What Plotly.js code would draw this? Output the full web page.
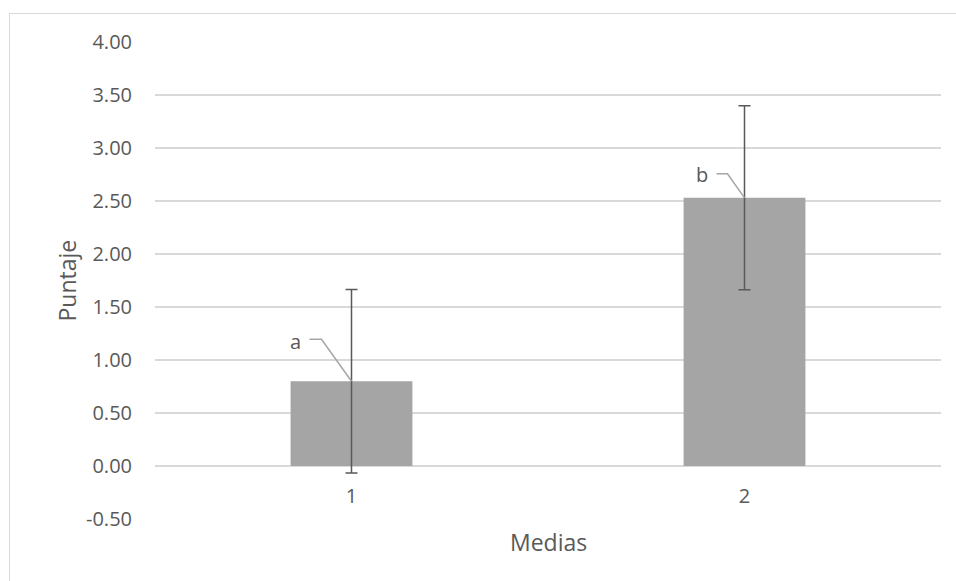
<!DOCTYPE html>
<html>
<head>
<meta charset="utf-8">
<script src="https://cdn.plot.ly/plotly-3.0.1.min.js"></script>
<style>
  html, body { margin: 0; padding: 0; background: #ffffff; }
  #chart { width: 956px; height: 581px; }
  #frame { position: absolute; left: 9px; top: 13px; width: 960px; height: 580px;
           border-left: 1px solid #d9d9d9; border-top: 1px solid #d9d9d9; pointer-events: none; }
</style>
</head>
<body>
<div id="chart"></div>
<div id="frame"></div>
<script>
// ---- data ----
const categories = ['1', '2'];
const means = [0.80, 2.53];
const errors = [0.866, 0.868];
const letters = ['a', 'b'];
const yTickValues = [-0.5, 0, 0.5, 1, 1.5, 2, 2.5, 3, 3.5, 4];
const xTitle = 'Medias';
const yTitle = 'Puntaje';

const FONT = 'Open Sans, sans-serif';
const TXT = '#595959';

// label offsets (pixels) for the letter callouts
const labelShift = [{x: -56, y: 40}, {x: -43, y: 23}];
const leaderPaths = [
  'M 0 0 L -30 42 L -42 42',
  'M 0 0 L -17 24 L -28 24'
];

const trace = {
  type: 'bar',
  x: categories,
  y: means,
  marker: {color: '#a5a5a5'},
  error_y: {type: 'data', array: errors, visible: true, color: '#595959', thickness: 1.5, width: 6},
  hoverinfo: 'skip'
};

const annotations = letters.map((t, i) => ({
  x: i, y: means[i], xref: 'x', yref: 'y', text: t, showarrow: false,
  xshift: labelShift[i].x, yshift: labelShift[i].y,
  font: {family: FONT, size: 20, color: TXT}
}));
annotations.push({
  x: 0.5, y: 0, xref: 'paper', yref: 'paper', text: xTitle, showarrow: false,
  xanchor: 'center', yshift: -23, yanchor: 'middle', font: {family: FONT, size: 23, color: TXT}
});
annotations.push({
  x: 0, y: 0.5, xref: 'paper', yref: 'paper', text: yTitle, showarrow: false,
  xanchor: 'center', yanchor: 'middle',
  xshift: -89, textangle: -90, font: {family: FONT, size: 23, color: TXT}
});

const shapes = letters.map((t, i) => ({
  type: 'path', xref: 'x', yref: 'y',
  xsizemode: 'pixel', ysizemode: 'pixel',
  xanchor: i, yanchor: means[i],
  path: leaderPaths[i],
  line: {color: '#a6a6a6', width: 1.5}
}));

const layout = {
  width: 956, height: 581,
  margin: {l: 155, r: 15, t: 42, b: 62},
  paper_bgcolor: '#ffffff', plot_bgcolor: '#ffffff',
  showlegend: false,
  bargap: 0.69,
  font: {family: FONT, size: 20, color: TXT},
  xaxis: {
    type: 'category', range: [-0.5, 1.5],
    anchor: 'free', position: 0.5 / 4.5,
    showgrid: false, zeroline: false, showline: false, ticks: '',
    ticklabelstandoff: 16,
    tickfont: {family: FONT, size: 20, color: TXT}
  },
  yaxis: {
    range: [-0.5, 4], tickvals: yTickValues,
    ticktext: yTickValues.map(v => v.toFixed(2)),
    showgrid: true, gridcolor: '#d9d9d9', gridwidth: 1.3,
    zeroline: false, showline: false, ticks: '',
    ticklabelstandoff: 22,
    tickfont: {family: FONT, size: 20, color: TXT}
  },
  annotations: annotations,
  shapes: shapes
};

Plotly.newPlot('chart', [trace], layout, {staticPlot: true, displayModeBar: false});
</script>
</body>
</html>
